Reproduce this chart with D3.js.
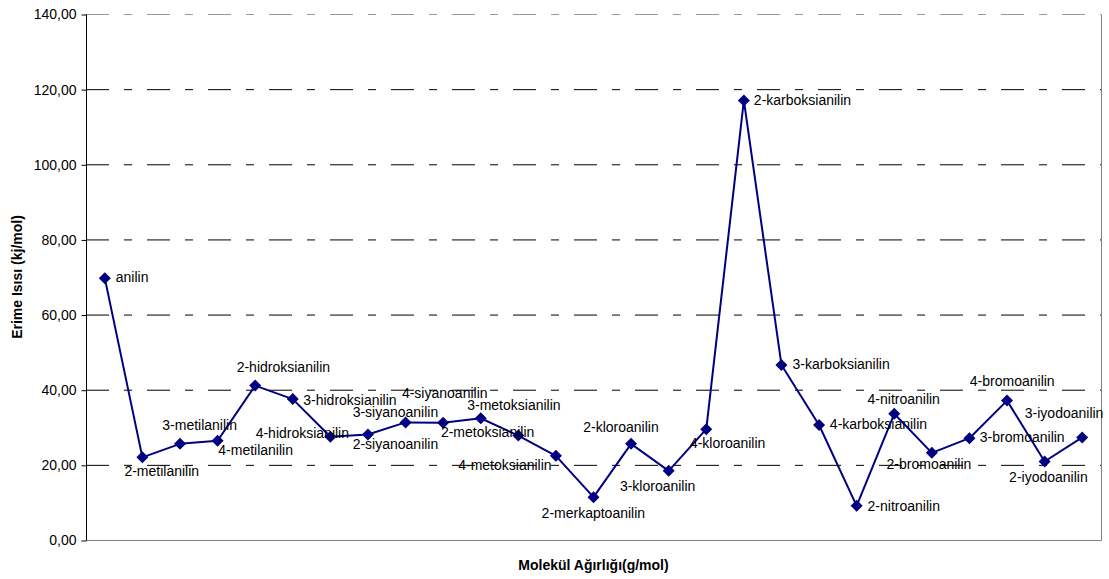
<!DOCTYPE html>
<html>
<head>
<meta charset="utf-8">
<script src="https://cdn.jsdelivr.net/npm/d3@7"></script>
<style>
  body { margin: 0; background: #fff; }
  text { font-family: "Liberation Sans", Arial, sans-serif; }
</style>
</head>
<body>
<div id="chart"></div>
<script>
// compounds, ordered by molecular weight
var compounds = ["anilin", "2-metilanilin", "3-metilanilin", "4-metilanilin",
    "2-hidroksianilin", "3-hidroksianilin", "4-hidroksianilin",
    "2-siyanoanilin", "3-siyanoanilin", "4-siyanoanilin",
    "2-metoksianilin", "3-metoksianilin", "4-metoksianilin",
    "2-merkaptoanilin", "2-kloroanilin", "3-kloroanilin", "4-kloroanilin",
    "2-karboksianilin", "3-karboksianilin", "4-karboksianilin",
    "2-nitroanilin", "4-nitroanilin", "2-bromoanilin", "3-bromoanilin", "4-bromoanilin",
    "2-iyodoanilin", "3-iyodoanilin"];

// melting heat, kj/mol
var heats = [69.7, 22.0, 25.6, 26.4, 41.1, 37.5, 27.5, 28.1, 31.3, 31.2, 32.4, 27.8, 22.4,
    11.4, 25.6, 18.4, 29.5, 117.0, 46.6, 30.6, 9.1, 33.6, 23.2, 27.1, 37.1, 20.9, 27.3];

var yTicks = [0, 20, 40, 60, 80, 100, 120, 140];

// where each data label sits relative to its marker (px)
var labelOffsets = [[11, -1], [-18, 13.5], [-17.7, -19], [0.7, 9.3], [-18.5, -18.4], [10.5, 0.7],
    [-74.7, -3.4], [-15.3, 9.7], [-52.9, -10], [-41.2, -30.2], [-39.8, 13.4], [-51.1, -30.7],
    [-97.7, 9.3], [-51.9, 16], [-47.9, -17.3], [-48.8, 14.7], [-16.4, 14], [10, 0], [11, -0.7],
    [10.8, -0.7], [10.9, 0], [-26.7, -14.7], [-45.3, 11.6], [10.4, -1], [-37.2, -20],
    [-35.5, 15.6], [-57.4, -24]];

var width = 1109, height = 579;
var plotLeft = 86, plotRight = 1101, plotTop = 14, plotBottom = 540;

var svg = d3.select("#chart").append("svg")
    .attr("width", width)
    .attr("height", height)

var x = d3.scalePoint().domain(d3.range(compounds.length)).range([plotLeft, plotRight]).padding(0.5)
var y = d3.scaleLinear().domain([0, 140]).range([plotBottom, plotTop])

// gridlines
svg.append("g")
    .selectAll("line")
    .data(yTicks.filter(function(d) { return d > 0; }))
    .enter().append("line")
    .attr("x1", plotLeft)
    .attr("x2", plotRight)
    .attr("y1", function(d) { return y(d) + 0.5; })
    .attr("y2", function(d) { return y(d) + 0.5; })
    .style("stroke", function(d) { return d == 140 ? "#999" : "#000"; })
    .style("stroke-width", "1px")
    .style("stroke-dasharray", "23,15,8,15")

// plot border (right and bottom grey)
svg.append("path")
    .attr("d", "M" + plotLeft + "," + (plotBottom + 0.5) + "H" + (plotRight + 0.5) + "V" + (plotTop + 0.5))
    .attr("fill", "none")
    .style("stroke", "#808080")
    .style("stroke-width", "1px")

var yAxis = svg.append("g")
    .attr("class", "yAxis")
    .attr("transform", "translate(" + (plotLeft + 0.5) + ",0.5)")
    .call(d3.axisLeft(y).tickValues(yTicks).tickSize(5).tickPadding(5)
        .tickFormat(function(d) { return d3.format(".2f")(d).replace(".", ","); }))

yAxis.select(".domain").attr("d", "M0," + plotTop + "V" + plotBottom).style("stroke", "#000")
yAxis.selectAll("line").style("stroke", "#000")
yAxis.selectAll("text")
    .style("font-size", "14px")
    .style("fill", "#000")
    .style("font-family", "'Liberation Sans', Arial, sans-serif")

// series line
var line = d3.line()
    .x(function(d, i) { return x(i); })
    .y(function(d) { return y(d); })

svg.append("path")
    .datum(heats)
    .attr("d", line)
    .attr("fill", "none")
    .style("stroke", "#000080")
    .style("stroke-width", "2px")
    .style("stroke-linejoin", "round")

svg.selectAll(".marker")
    .data(heats)
    .enter().append("path")
    .attr("class", "marker")
    .attr("d", "M0,-6L6,0L0,6L-6,0Z")
    .attr("transform", function(d, i) { return "translate(" + x(i) + "," + y(d) + ")"; })
    .attr("fill", "#000080")

svg.selectAll(".label")
    .data(heats)
    .enter().append("text")
    .attr("class", "label")
    .attr("x", function(d, i) { return x(i) + labelOffsets[i][0]; })
    .attr("y", function(d, i) { return y(d) + labelOffsets[i][1]; })
    .attr("dy", "0.36em")
    .style("font-size", "14px")
    .style("fill", "#000")
    .text(function(d, i) { return compounds[i]; })

// axis titles
svg.append("text")
    .attr("x", (plotLeft + plotRight) / 2)
    .attr("y", 570)
    .attr("text-anchor", "middle")
    .style("font-size", "14px")
    .style("font-weight", "bold")
    .text("Molekül Ağırlığı(g/mol)")

svg.append("text")
    .attr("transform", "translate(22," + ((plotTop + plotBottom) / 2) + ") rotate(-90)")
    .attr("text-anchor", "middle")
    .style("font-size", "14px")
    .style("font-weight", "bold")
    .text("Erime Isısı (kj/mol)")
</script>
</body>
</html>
